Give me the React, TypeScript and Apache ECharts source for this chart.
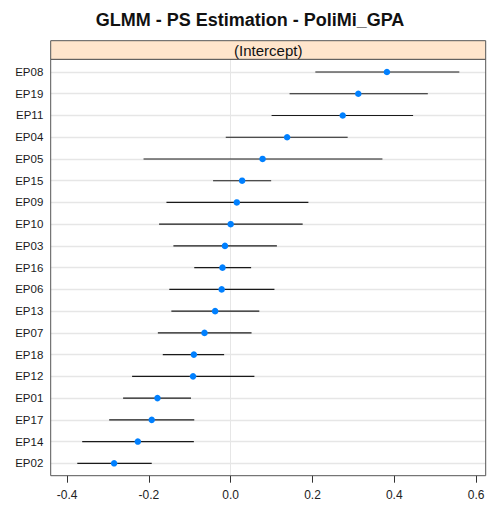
import React, { useEffect, useRef } from "react";
import * as echarts from "echarts";

// Random-effect estimates per group, listed top to bottom
const categories = [
  "EP08", "EP19", "EP11", "EP04", "EP05", "EP15", "EP09", "EP10", "EP03", "EP16",
  "EP06", "EP13", "EP07", "EP18", "EP12", "EP01", "EP17", "EP14", "EP02",
];
const estimates = [
  0.382, 0.312, 0.274, 0.138, 0.078, 0.028, 0.015, 0.0, -0.014, -0.02,
  -0.022, -0.038, -0.064, -0.09, -0.092, -0.179, -0.193, -0.227, -0.285,
];
const lower = [
  0.207, 0.144, 0.1, -0.012, -0.213, -0.043, -0.157, -0.175, -0.14, -0.089,
  -0.15, -0.145, -0.178, -0.166, -0.241, -0.263, -0.297, -0.363, -0.375,
];
const upper = [
  0.559, 0.482, 0.446, 0.286, 0.371, 0.099, 0.19, 0.176, 0.113, 0.05,
  0.107, 0.07, 0.051, -0.016, 0.058, -0.097, -0.089, -0.09, -0.193,
];
const xTicks = [-0.4, -0.2, 0.0, 0.2, 0.4, 0.6];

const TITLE = "GLMM - PS Estimation - PoliMi_GPA";
const STRIP = "(Intercept)";

const W = 489;
const H = 507;
const FONT = '"Liberation Sans", Arial, Helvetica, sans-serif';
const X_MIN = -0.44;
const X_MAX = 0.6235;

// panel frame
const PANEL_L = 50.7;
const PANEL_R = 485.7;
const PANEL_T = 59.3;
const PANEL_B = 475.7;
const STRIP_T = 40.7;
// rows area
const ROWS_T = 61.1;
const ROWS_B = 474.2;

export default function App() {
  const ref = useRef<HTMLDivElement>(null);

  useEffect(() => {
    if (!ref.current) return;
    const chart = echarts.init(ref.current, undefined, { renderer: "svg" });

    const option: any = {
      animation: false,
      backgroundColor: "#ffffff",
      textStyle: { fontFamily: FONT },
      grid: [
        {
          left: PANEL_L,
          right: W - PANEL_R,
          top: PANEL_T,
          bottom: H - PANEL_B,
          show: true,
          borderColor: "#555555",
          borderWidth: 1,
          backgroundColor: "transparent",
          z: 10,
        },
        {
          left: PANEL_L,
          right: W - PANEL_R,
          top: ROWS_T,
          bottom: H - ROWS_B,
        },
      ],
      xAxis: [
        {
          type: "value",
          gridIndex: 0,
          min: X_MIN,
          max: X_MAX,
          axisLine: { show: false },
          splitLine: { show: false },
          axisTick: {
            show: true,
            length: 7,
            customValues: xTicks,
            lineStyle: { color: "#333333", width: 1 },
          },
          axisLabel: {
            customValues: xTicks,
            margin: 13,
            fontSize: 12,
            color: "#222222",
            fontFamily: FONT,
            formatter: (v: number) => v.toFixed(1),
          },
        },
        {
          type: "value",
          gridIndex: 1,
          min: X_MIN,
          max: X_MAX,
          show: false,
        },
      ],
      yAxis: [
        { type: "value", gridIndex: 0, min: 0, max: 1, show: false },
        {
          type: "category",
          gridIndex: 1,
          data: categories,
          inverse: true,
          axisLine: { show: false },
          axisTick: { show: false },
          splitLine: { show: false },
          axisLabel: {
            margin: 7.4,
            fontSize: 11.5,
            color: "#1a1a1a",
            fontFamily: FONT,
          },
        },
      ],
      graphic: [
        {
          type: "rect",
          shape: { x: PANEL_L, y: STRIP_T, width: PANEL_R - PANEL_L, height: PANEL_T - STRIP_T },
          style: { fill: "#ffe5cc", stroke: "#555555", lineWidth: 1 },
          z: 20,
        },
        {
          type: "text",
          x: (PANEL_L + PANEL_R) / 2,
          y: (STRIP_T + PANEL_T) / 2 + 0.5,
          style: {
            text: STRIP,
            fontSize: 15,
            fontFamily: FONT,
            fill: "#111111",
            textAlign: "center",
            textVerticalAlign: "middle",
          },
          z: 21,
        },
        {
          type: "text",
          x: 250,
          y: 20,
          style: {
            text: TITLE,
            fontSize: 18,
            fontWeight: "bold",
            fontFamily: FONT,
            fill: "#111111",
            textAlign: "center",
            textVerticalAlign: "middle",
          },
          z: 21,
        },
      ],
      series: [
        {
          // vertical reference line at zero across the whole panel
          type: "line",
          xAxisIndex: 0,
          yAxisIndex: 0,
          data: [],
          silent: true,
          z: 1,
          markLine: {
            silent: true,
            z: 1,
            symbol: "none",
            label: { show: false },
            lineStyle: { color: "#e6e6e6", width: 1, type: "solid" },
            data: [{ xAxis: 0 }],
          },
        },
        {
          // horizontal guide line for every group
          type: "line",
          xAxisIndex: 1,
          yAxisIndex: 1,
          data: [],
          silent: true,
          z: 1,
          markLine: {
            silent: true,
            z: 1,
            symbol: "none",
            label: { show: false },
            lineStyle: { color: "#e6e6e6", width: 1.3, type: "solid" },
            data: categories.map((c) => ({ yAxis: c })),
          },
        },
        {
          // interval segments
          type: "custom",
          xAxisIndex: 1,
          yAxisIndex: 1,
          z: 6,
          silent: true,
          data: categories.map((c, i) => [lower[i], upper[i], i]),
          renderItem: (params: any, api: any) => {
            const lo = api.value(0);
            const hi = api.value(1);
            const idx = api.value(2);
            const p1 = api.coord([lo, idx]);
            const p2 = api.coord([hi, idx]);
            return {
              type: "line",
              shape: { x1: p1[0], y1: p1[1], x2: p2[0], y2: p2[1] },
              style: { stroke: "#1a1a1a", lineWidth: 1.1 },
            };
          },
          encode: { x: [0, 1], y: 2 },
        },
        {
          type: "scatter",
          xAxisIndex: 1,
          yAxisIndex: 1,
          z: 7,
          symbol: "circle",
          symbolSize: 6.5,
          itemStyle: { color: "#0080ff", opacity: 1 },
          data: categories.map((c, i) => [estimates[i], c]),
        },
      ],
    };

    chart.setOption(option);
    return () => chart.dispose();
  }, []);

  return (
    <div
      ref={ref}
      style={{ position: "fixed", left: 0, top: 0, width: W, height: H }}
    />
  );
}
